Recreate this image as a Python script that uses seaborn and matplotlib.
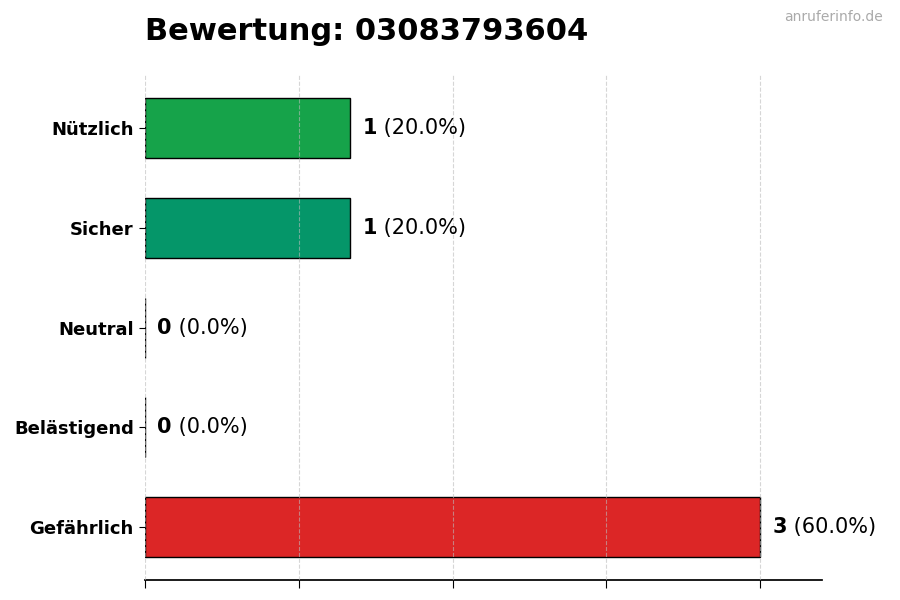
import numpy as np
import pandas as pd
import seaborn as sns
import matplotlib.pyplot as plt

sns.set_theme(style='white')
plt.rcParams['font.family'] = ['DejaVu Sans']
plt.rcParams['text.color'] = 'black'
plt.rcParams['xtick.color'] = 'black'
plt.rcParams['ytick.color'] = 'black'

# Daten
categories = ['Nützlich', 'Sicher', 'Neutral', 'Belästigend', 'Gefährlich']
counts = [1, 1, 0, 0, 3]
colors = ['#16a34a', '#059669', '#9ca3af', '#f97316', '#dc2626']
title = 'Bewertung: 03083793604'

df = pd.DataFrame({'Kategorie': categories, 'Anzahl': counts})
total = sum(counts)

fig = plt.figure(figsize=(9, 6), dpi=100)
ax = fig.add_axes([0.161, 0.033, 0.752, 0.842])

sns.barplot(data=df, y='Kategorie', x='Anzahl', hue='Kategorie', palette=colors,
            legend=False, orient='h', width=0.6, edgecolor='black', linewidth=1,
            saturation=1, ax=ax)

ax.set_xlim(0, max(counts) * 1.1)
ax.set_ylim(len(categories) - 0.47, -0.53)
ax.set_xticks(np.linspace(0, max(counts), 5))
ax.set_xticklabels([])
ax.set_xlabel('')
ax.set_ylabel('')
ax.tick_params(axis='y', length=4, width=0.8, labelsize=13, pad=4, left=True)
ax.tick_params(axis='x', length=6, width=0.8, bottom=True)
for lbl in ax.get_yticklabels():
    lbl.set_fontweight('bold')
    lbl.set_color('black')

ax.grid(axis='x', linestyle='--', color='#bbbbbb', linewidth=0.8, alpha=0.6)
ax.set_axisbelow(False)
sns.despine(ax=ax, left=True)
ax.spines['bottom'].set_color('black')

# Beschriftungen
for i, c in enumerate(counts):
    pct = c / total * 100
    t = ax.annotate(str(c), xy=(c, i), xytext=(9, 0), textcoords='offset points',
                    va='center', ha='left', fontsize=15, fontweight='bold', color='black')
    ax.annotate(f' ({pct:.1f}%)', xy=(1, 0.5), xycoords=t, va='center', ha='left',
                fontsize=15, color='black')

fig.text(0.161, 0.948, title, fontsize=22, fontweight='bold', ha='left', va='center', color='black')
fig.text(0.981, 0.972, 'anruferinfo.de', fontsize=10, color='#aaaaaa', ha='right', va='center')

fig.savefig('out.png', dpi=100)
